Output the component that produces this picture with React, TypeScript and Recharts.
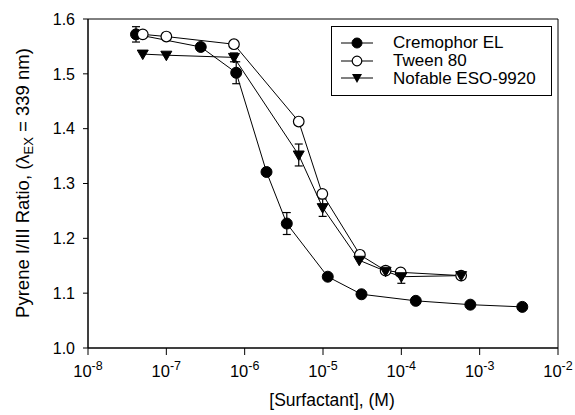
import React from 'react';
import { LineChart, Line, XAxis, YAxis, ErrorBar, ReferenceArea } from 'recharts';

const cremX = [4.1e-8, 2.75e-7, 7.8e-7, 1.9e-6, 3.45e-6, 1.15e-5, 3.1e-5, 1.53e-4, 7.6e-4, 3.5e-3];
const cremY = [1.572, 1.549, 1.502, 1.321, 1.227, 1.130, 1.098, 1.086, 1.079, 1.075];
const cremErr = [0.014, 0.006, 0.02, null, 0.02, null, null, null, null, null];

const tweenX = [5.0e-8, 1.0e-7, 7.3e-7, 4.9e-6, 9.8e-6, 2.96e-5, 6.3e-5, 9.8e-5, 5.8e-4];
const tweenY = [1.572, 1.568, 1.554, 1.413, 1.281, 1.170, 1.141, 1.138, 1.132];
const tweenErr = [null, null, 0.006, 0.006, null, null, null, 0.005, null];

const nofX = [5.0e-8, 1.0e-7, 7.3e-7, 4.9e-6, 9.9e-6, 2.9e-5, 6.3e-5, 1.0e-4, 5.8e-4];
const nofY = [1.536, 1.534, 1.530, 1.352, 1.256, 1.160, 1.140, 1.130, 1.132];
const nofErr = [null, null, 0.008, 0.02, 0.016, null, null, 0.012, null];

const xTicks = [1e-8, 1e-7, 1e-6, 1e-5, 1e-4, 1e-3, 1e-2];
const yTicks = [1.0, 1.1, 1.2, 1.3, 1.4, 1.5, 1.6];

const seriesNames = ['Cremophor EL', 'Tween 80', 'Nofable ESO-9920'];

const toRows = (xs: number[], ys: number[], es: (number | null)[]) =>
  xs.map((x, i) => ({ x, y: ys[i], err: es[i] }));

const cremData = toRows(cremX, cremY, cremErr);
const tweenData = toRows(tweenX, tweenY, tweenErr);
const nofData = toRows(nofX, nofY, nofErr);

const FONT = '"Liberation Sans", Arial, sans-serif';

const filledDot = (p: any) => (
  <circle key={'c' + p.index} cx={p.cx} cy={p.cy} r={5.5} fill="#000" stroke="#000" />
);
const openDot = (p: any) => (
  <circle key={'o' + p.index} cx={p.cx} cy={p.cy} r={5.3} fill="#fff" stroke="#000" strokeWidth={1.2} />
);
const triDot = (p: any) => (
  <path
    key={'t' + p.index}
    d={`M${p.cx - 5.5},${p.cy - 4} L${p.cx + 5.5},${p.cy - 4} L${p.cx},${p.cy + 5.5} Z`}
    fill="#000"
    stroke="#000"
  />
);

const XTick = (props: any) => {
  const { x, y, payload } = props;
  const exp = Math.round(Math.log10(payload.value));
  return (
    <text x={x} y={y + 20} textAnchor="middle" fontSize={16.5} fontFamily={FONT} fill="#000">
      10
      <tspan dy={-7} fontSize={12.5}>{exp}</tspan>
    </text>
  );
};

const YLabel = () => (
  <text
    x={29}
    y={183}
    transform="rotate(-90, 29, 183)"
    textAnchor="middle"
    fontSize={18.5}
    fontFamily={FONT}
    fill="#000"
  >
    Pyrene I/III Ratio, (λ
    <tspan dy={4} fontSize={13}>EX</tspan>
    <tspan dy={-4}> = 339 nm)</tspan>
  </text>
);

// legend drawn by hand, boxed, top right of the plot
const LegendBox = () => {
  const icons = [
    <circle cx={16} cy={8} r={5} fill="#000" stroke="#000" />,
    <circle cx={16} cy={8} r={4.8} fill="#fff" stroke="#000" strokeWidth={1.2} />,
    <path d="M11,4 L21,4 L16,13 Z" fill="#000" />,
  ];
  return (
    <div
      style={{
        position: 'absolute',
        left: 331,
        top: 26,
        border: '1px solid #000',
        width: 221,
        height: 70,
        boxSizing: 'border-box',
        paddingTop: 7,
        paddingLeft: 9,
        background: '#fff',
        fontFamily: FONT,
        fontSize: 17,
        lineHeight: '17px',
      }}
    >
      {seriesNames.map((n, i) => (
        <div key={n} style={{ display: 'flex', alignItems: 'center', height: 17.7, whiteSpace: 'nowrap' }}>
          <svg width={32} height={16} style={{ marginRight: 20 }}>
            <line x1={0} y1={8} x2={32} y2={8} stroke="#000" strokeWidth={1} />
            {icons[i]}
          </svg>
          <span>{n}</span>
        </div>
      ))}
    </div>
  );
};

export default function App() {
  return (
    <div style={{ position: 'absolute', left: 0, top: 0, width: 575, height: 415, background: '#fff' }}>
      <LineChart width={575} height={415} margin={{ top: 19, right: 17, bottom: 0, left: 0 }}>
        <XAxis
          dataKey="x"
          type="number"
          scale="log"
          domain={[1e-8, 1e-2]}
          ticks={xTicks}
          allowDataOverflow
          height={67}
          tickSize={7}
          tick={<XTick />}
          stroke="#000"
          label={({ viewBox }: any) => (
            <text
              x={viewBox.x + viewBox.width / 2 + 9}
              y={406}
              textAnchor="middle"
              fontSize={17.5}
              fontFamily={FONT}
              fill="#000"
            >
              [Surfactant], (M)
            </text>
          )}
        />
        <YAxis
          type="number"
          domain={[1.0, 1.6]}
          ticks={yTicks}
          width={88}
          tickSize={5}
          tickMargin={8}
          tickFormatter={(v: number) => v.toFixed(1)}
          tick={{ fontSize: 16, fontFamily: FONT, fill: '#000' }}
          stroke="#000"
          label={<YLabel />}
        />
        <ReferenceArea x1={1e-8} x2={1e-2} y1={1.0} y2={1.6} fill="none" stroke="#000" strokeWidth={1} ifOverflow="visible" />
        <Line data={cremData} dataKey="y" name={seriesNames[0]} stroke="#000" strokeWidth={1} dot={filledDot} isAnimationActive={false}>
          <ErrorBar dataKey="err" width={4} stroke="#000" strokeWidth={1.2} direction="y" />
        </Line>
        <Line data={tweenData} dataKey="y" name={seriesNames[1]} stroke="#000" strokeWidth={1} dot={openDot} isAnimationActive={false}>
          <ErrorBar dataKey="err" width={4} stroke="#000" strokeWidth={1.2} direction="y" />
        </Line>
        <Line data={nofData} dataKey="y" name={seriesNames[2]} stroke="#000" strokeWidth={1} dot={triDot} isAnimationActive={false}>
          <ErrorBar dataKey="err" width={4} stroke="#000" strokeWidth={1.2} direction="y" />
        </Line>
      </LineChart>
      <LegendBox />
    </div>
  );
}
